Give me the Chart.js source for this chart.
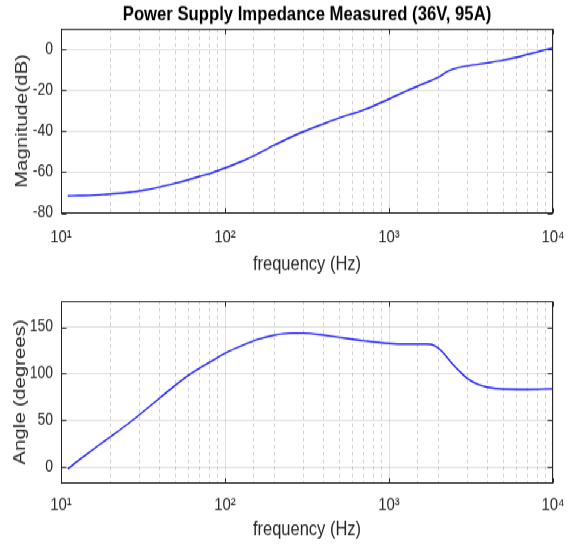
<!DOCTYPE html>
<html>
<head>
<meta charset="utf-8">
<title>Power Supply Impedance Measured</title>
<script src="https://cdn.jsdelivr.net/npm/chart.js@4.4.1/dist/chart.umd.min.js"></script>
<style>
    html, body { margin: 0; padding: 0; background: #fff; }
    #page { position: relative; width: 568px; height: 548px; }
    /* the figure is drawn 1.2x shorter and stretched back, like the original export */
    #wrap { position: absolute; left: 0; top: 0; width: 568px; height: 457px; transform: scaleY(1.2); transform-origin: 0 0; }
    .plot-box { position: absolute; left: 0; width: 568px; }
    #magBox { top: 0; height: 233px; }
    #angBox { top: 233px; height: 224px; }
</style>
</head>
<body>
<div id="page">
    <div id="wrap">
        <div class="plot-box" id="magBox"><canvas id="magChart"></canvas></div>
        <div class="plot-box" id="angBox"><canvas id="angChart"></canvas></div>
    </div>
</div>
<script>
// Magnitude curve (Hz, dB)
const magFreq = [11, 13, 15, 18, 22, 27, 33, 40, 50, 60, 70, 80, 100, 130, 160, 200, 250, 300, 400, 500,
                 700, 1000, 1300, 1600, 2000, 2300, 2600, 3000, 4000, 5000, 6000, 7000, 8000, 9000, 10000];
const magDb = [-71.6, -71.5, -71.4, -71.0, -70.5, -69.7, -68.7, -67.3, -65.4, -63.7, -62.1, -60.8, -58.0, -54.3, -50.8, -46.8, -43.0, -40.2, -36.3, -33.4,
               -29.6, -24.2, -20.0, -16.9, -13.6, -10.5, -9.0, -8.0, -6.5, -5.2, -3.8, -2.4, -1.2, -0.1, 0.8];

// Phase curve (Hz, degrees)
const angFreq = [11, 12, 14, 17, 20, 25, 30, 40, 50, 60, 70, 80, 100, 130, 160, 200, 250, 300, 400, 500,
                 700, 1000, 1300, 1700, 1900, 2100, 2400, 2700, 3000, 3500, 4000, 5000, 7000, 10000];
const angDeg = [-2, 3.5, 12.5, 23.5, 32.5, 45, 56, 74, 88, 98.5, 106, 112, 122, 131, 137, 141.5, 143.5, 143.5, 141.5, 139,
                135.5, 132.5, 131.8, 131.8, 130, 124, 112, 102.5, 95, 88.5, 85.5, 83.5, 83.3, 84];

// Axis ranges and tick labels
const freqRange = [10, 10000];
const decadeTicks = [10, 100, 1000, 10000];
const decadeLabels = ['10¹', '10²', '10³', '10⁴'];
const magRange = [-80, 10];
const magStep = 20;
const angRange = [-17, 178];
const angStep = 50;

const FONT = "'Liberation Sans', Arial, Helvetica, sans-serif";
const AXIS_COLOR = '#262626';
const MAJOR_GRID = 'rgba(38, 38, 38, 0.15)';
const MINOR_GRID = 'rgba(38, 38, 38, 0.22)';

function isDecade(v) {
    const e = Math.log10(v);
    return Math.abs(e - Math.round(e)) < 1e-9;
}

// Draws the closed box round the plot area plus inward tick marks (matlab style)
const boxPlugin = {
    id: 'axesBox',
    afterDraw(chart) {
        const { ctx, chartArea: a, scales } = chart;
        const l = Math.round(a.left) + 0.5;
        const r = Math.round(a.right) - 0.5;
        const t = Math.round(a.top) + 0.5;
        const b = Math.round(a.bottom) - 0.5;
        ctx.save();
        ctx.strokeStyle = AXIS_COLOR;
        ctx.lineWidth = 1;
        ctx.strokeRect(l, t, r - l, b - t);
        ctx.beginPath();
        decadeTicks.forEach(v => {
            const x = Math.round(scales.x.getPixelForValue(v)) + 0.5;
            ctx.moveTo(x, b); ctx.lineTo(x, b - 4);
            ctx.moveTo(x, t); ctx.lineTo(x, t + 4);
        });
        scales.y.ticks.forEach(tk => {
            const y = Math.round(scales.y.getPixelForValue(tk.value)) + 0.5;
            ctx.moveTo(l, y); ctx.lineTo(l + 5, y);
            ctx.moveTo(r, y); ctx.lineTo(r - 5, y);
        });
        ctx.stroke();
        ctx.restore();
    }
};

// Log frequency axis shared by both plots
function freqAxis(axisHeight, labelPad, titlePad) {
    return {
        type: 'logarithmic',
        min: freqRange[0],
        max: freqRange[1],
        border: {
            display: false,
            dash: ctx => (ctx.tick && !isDecade(ctx.tick.value)) ? [3, 3] : []
        },
        grid: {
            drawTicks: false,
            color: ctx => (ctx.tick && !isDecade(ctx.tick.value)) ? MINOR_GRID : MAJOR_GRID
        },
        ticks: {
            autoSkip: false,
            maxRotation: 0,
            padding: labelPad,
            color: AXIS_COLOR,
            font: { family: FONT, size: 15 },
            callback: function(value) {
                const i = decadeTicks.findIndex(d => Math.abs(d - value) < 1e-6);
                return i >= 0 ? decadeLabels[i] : '';
            }
        },
        title: {
            display: true,
            text: 'frequency (Hz)',
            color: AXIS_COLOR,
            font: { family: FONT, size: 16.5 },
            padding: { top: 0, bottom: titlePad }
        },
        afterFit: s => {
            s.height = axisHeight;
            s.paddingLeft = 0;
            s.paddingRight = 0;
        }
    };
}

function valueAxis(range, step, label, titlePad) {
    return {
        min: range[0],
        max: range[1],
        border: { display: false },
        grid: { drawTicks: false, color: MAJOR_GRID },
        ticks: {
            stepSize: step,
            includeBounds: false,
            padding: 8,
            color: AXIS_COLOR,
            font: { family: FONT, size: 14 }
        },
        title: {
            display: true,
            text: label,
            color: AXIS_COLOR,
            font: { family: FONT, size: 17 },
            padding: { top: titlePad, bottom: 0 }
        },
        afterFit: s => {
            s.width = 61;
            s.paddingTop = 0;
            s.paddingBottom = 0;
        }
    };
}

function lineData(xs, ys) {
    return xs.map((f, i) => ({ x: f, y: ys[i] }));
}

function makeChart(id, xs, ys, opts) {
    return new Chart(document.getElementById(id), {
        type: 'line',
        data: {
            datasets: [{
                data: lineData(xs, ys),
                borderColor: 'rgb(30, 30, 255)',
                borderWidth: 1.4,
                pointRadius: 0,
                fill: false,
                cubicInterpolationMode: 'monotone'
            }]
        },
        options: {
            responsive: true,
            maintainAspectRatio: false,
            animation: false,
            layout: { padding: { top: opts.padTop, right: 15, bottom: 0, left: 0 } },
            plugins: {
                legend: { display: false },
                tooltip: { enabled: false },
                title: opts.title
            },
            scales: {
                x: freqAxis(opts.axisHeight, opts.labelPad, opts.titlePad),
                y: valueAxis(opts.range, opts.step, opts.yLabel, opts.yTitlePad)
            }
        },
        plugins: [boxPlugin]
    });
}

makeChart('magChart', magFreq, magDb, {
    padTop: 0,
    axisHeight: 55.5,
    labelPad: 11,
    titlePad: 2.3,
    range: magRange,
    step: magStep,
    yLabel: 'Magnitude(dB)',
    yTitlePad: 11.8,
    title: {
        display: true,
        fullSize: false,
        text: 'Power Supply Impedance Measured (36V, 95A)',
        color: '#000',
        font: { family: FONT, size: 16.7, weight: 'bold' },
        padding: { top: 2.5, bottom: 1.7 }
    }
});

makeChart('angChart', angFreq, angDeg, {
    padTop: 17.8,
    axisHeight: 54.5,
    labelPad: 9.3,
    titlePad: 5.4,
    range: angRange,
    step: angStep,
    yLabel: 'Angle (degrees)',
    yTitlePad: 9.8,
    title: { display: false }
});
</script>
</body>
</html>
